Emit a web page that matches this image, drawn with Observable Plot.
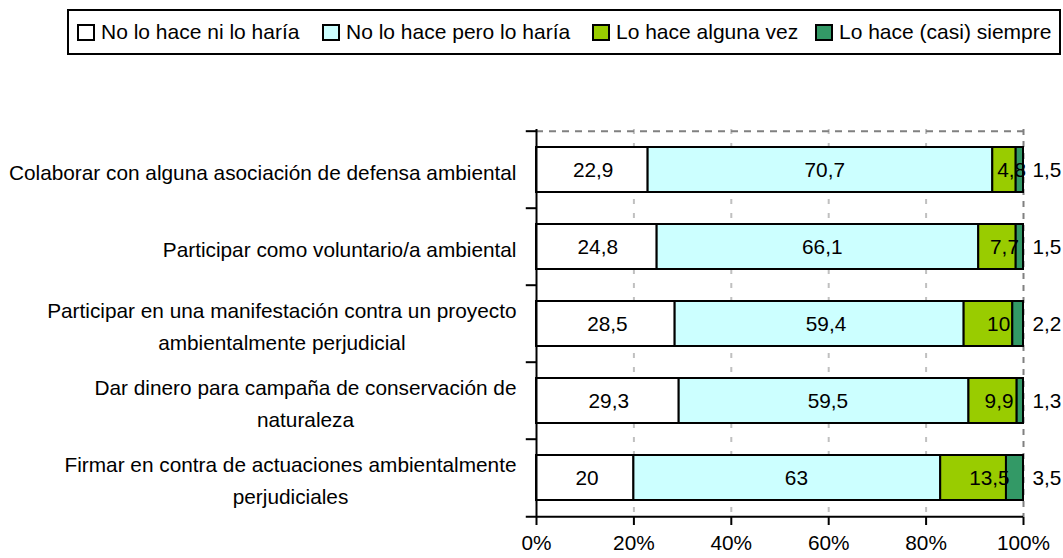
<!DOCTYPE html>
<html>
<head>
<meta charset="utf-8">
<script src="https://cdn.jsdelivr.net/npm/d3@7"></script>
<script src="https://cdn.jsdelivr.net/npm/@observablehq/plot@0.6"></script>
<style>
  html, body { margin: 0; padding: 0; background: #fff; }
  #wrap { position: relative; width: 1063px; height: 558px; font-family: "Liberation Sans", Arial, sans-serif; }
  #legend { position: absolute; left: 67px; top: 9px; width: 990px; height: 42px; border: 2px solid #000; background: #fff; }
  .item { position: absolute; top: 0; height: 42px; display: flex; align-items: center; font-size: 21px; white-space: nowrap; color: #000; }
  .sw { width: 14px; height: 13px; border: 2px solid #000; margin-right: 6px; box-sizing: content-box; }
  #chart { position: absolute; left: 0; top: 0; }
</style>
</head>
<body>
<div id="wrap">
  <div id="chart"></div>
  <div id="legend"></div>
</div>
<script>
const categories = [
  "Colaborar con alguna asociación de defensa ambiental",
  "Participar como voluntario/a ambiental",
  "Participar en una manifestación contra un proyecto\nambientalmente perjudicial",
  "Dar dinero para campaña de conservación de\nnaturaleza",
  "Firmar en contra de actuaciones ambientalmente\nperjudiciales"
];
const series = ["No lo hace ni lo haría", "No lo hace pero lo haría", "Lo hace alguna vez", "Lo hace (casi) siempre"];
const noHariaValues = [22.9, 24.8, 28.5, 29.3, 20];
const hariaValues = [70.7, 66.1, 59.4, 59.5, 63];
const algunaVezValues = [4.8, 7.7, 10, 9.9, 13.5];
const siempreValues = [1.5, 1.5, 2.2, 1.3, 3.5];
const xTicks = [0, 0.2, 0.4, 0.6, 0.8, 1];
const colors = ["#FFFFFF", "#CCFFFF", "#99CC00", "#339966"];

const seriesValues = [noHariaValues, hariaValues, algunaVezValues, siempreValues];
const rows = [];
categories.forEach((c, i) => {
  series.forEach((s, j) => rows.push({cat: c, series: s, value: seriesValues[j][i]}));
});
const fmt = v => String(v).replace(".", ",");

const W = 1063, H = 558, mT = 129, mB = 41, mL = 536, mR = 40;
const step = (H - mT - mB) / categories.length;
const inner = rows.filter(d => d.series !== series[3]);
const outer = rows.filter(d => d.series === series[3]);
const FS = 20.8;

const chart = Plot.plot({
  width: W, height: H,
  marginTop: mT, marginBottom: mB, marginLeft: mL, marginRight: mR,
  style: {fontFamily: "Liberation Sans, Arial, sans-serif", fontSize: FS + "px", color: "#000", background: "transparent"},
  x: {domain: [0, 1], label: null},
  y: {domain: categories, paddingInner: 0.42, paddingOuter: 0.21, label: null},
  color: {domain: series, range: colors},
  marks: [
    Plot.ruleX(xTicks.slice(1, 5), {stroke: "#c0c0c0", strokeWidth: 2, strokeDasharray: "5,9"}),
    Plot.ruleX([1], {stroke: "#808080", strokeWidth: 2, strokeDasharray: "6,6"}),
    Plot.ruleY([categories[0]], {x1: () => 0, x2: () => 1, dy: -step / 2, stroke: "#808080", strokeWidth: 2, strokeDasharray: "7,6"}),
    Plot.barX(rows, Plot.stackX({x: "value", y: "cat", fill: "series", offset: "normalize", stroke: "#000", strokeWidth: 2})),
    Plot.text(inner, Plot.stackX({x: "value", y: "cat", z: "series", offset: "normalize", text: d => fmt(d.value), fill: "#000", fontSize: FS})),
    Plot.text(outer, {x: () => 1, y: "cat", text: d => fmt(d.value), dx: 9, textAnchor: "start", fill: "#000", fontSize: FS}),
    Plot.ruleX([0], {stroke: "#000", strokeWidth: 2}),
    Plot.ruleY(categories, {x1: () => -0.021, x2: () => 0, dy: -step / 2, stroke: "#000", strokeWidth: 2}),
    Plot.ruleY([categories[categories.length - 1]], {x1: () => -0.021, x2: () => 1, dy: step / 2, stroke: "#000", strokeWidth: 2}),
    Plot.axisY({tickSize: 0, tickPadding: 20, lineHeight: 1.5, fontSize: FS}),
    Plot.axisX(xTicks, {tickSize: 8, tickPadding: 10, tickFormat: d => Math.round(d * 100) + "%", fontSize: FS, strokeWidth: 2, stroke: "#000"})
  ]
});
document.getElementById("chart").appendChild(chart);

// Center the lines of wrapped (multi-line) category labels inside their right-aligned block
const yLabelGroup = chart.querySelector('g[aria-label="y-axis tick label"]');
if (yLabelGroup) {
  yLabelGroup.querySelectorAll("text").forEach(t => {
    const spans = t.querySelectorAll("tspan");
    if (spans.length < 2) return;
    let maxW = 0;
    spans.forEach(s => { maxW = Math.max(maxW, s.getComputedTextLength()); });
    t.setAttribute("text-anchor", "middle");
    spans.forEach(s => s.setAttribute("x", -maxW / 2));
  });
}

const legendLefts = [8, 253, 523, 746];
const legend = document.getElementById("legend");
series.forEach((s, j) => {
  const it = document.createElement("div");
  it.className = "item";
  it.style.left = legendLefts[j] + "px";
  const sw = document.createElement("div");
  sw.className = "sw";
  sw.style.background = colors[j];
  const t = document.createElement("span");
  t.textContent = s;
  it.appendChild(sw); it.appendChild(t);
  legend.appendChild(it);
});
</script>
</body>
</html>
